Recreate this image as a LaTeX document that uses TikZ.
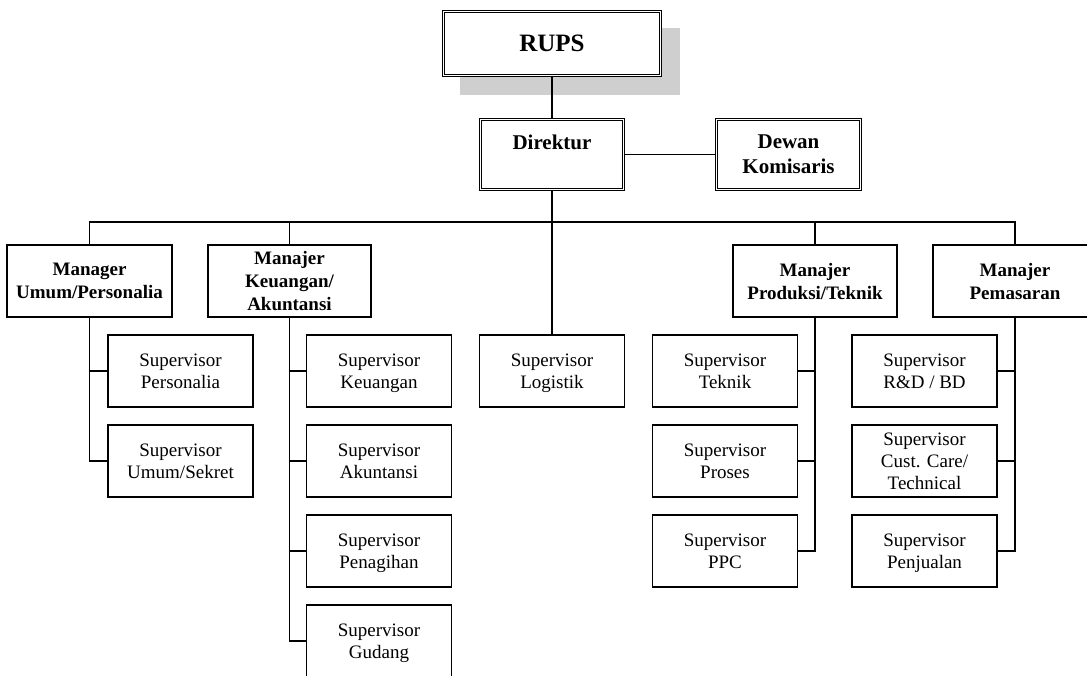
\documentclass[tikz,border=0pt]{standalone}
\usepackage{fontspec}
\setmainfont{Liberation Serif}
\begin{document}
\begin{tikzpicture}[x=1pt,y=-1pt,
  line width=1.2pt,
  boxtext/.style={align=center, inner sep=0pt, text depth=0pt},
  dbox/.style={boxtext, draw, double, double distance=1.6pt, line width=0.9pt, fill=white,
    font=\bfseries\fontsize{21}{25}\selectfont},
  mgr/.style={boxtext, draw, fill=white,
    minimum width=164pt, minimum height=72pt, font=\bfseries\fontsize{19}{23}\selectfont},
  sup/.style={boxtext, draw, fill=white,
    minimum width=145pt, minimum height=72pt, font=\fontsize{19}{22}\selectfont},
  link/.style={draw, line width=1.2pt}]
\clip (0,0) rectangle (1087,675);

% top level with its drop shadow
\fill[gray!38] (460,28) rectangle (680,95);
\node[dbox, minimum width=217pt, minimum height=64pt, font=\bfseries\fontsize{25}{29}\selectfont]
  (rups) at (552,43.5) {RUPS};
\node[dbox, minimum width=143pt, minimum height=70pt] (dir) at (552,154.5) {Direktur\\~};
\node[dbox, minimum width=144pt, minimum height=70pt] (dewan) at (788.5,154.5) {Dewan\\Komisaris};

% managers
\node[mgr, minimum width=165pt] (mU) at (89.5,281) {Manager\\Umum/Personalia};
\node[mgr, minimum width=163pt] (mK) at (289.5,281) {Manajer\\Keuangan/\\Akuntansi};
\node[mgr] (mP) at (815,281) {Manajer\\Produksi/Teknik};
\node[mgr] (mM) at (1015,281) {Manajer\\Pemasaran};

% supervisors
\node[sup] (sPers) at (180.5,371) {Supervisor\\Personalia};
\node[sup] (sUmum) at (180.5,461) {Supervisor\\Umum/Sekret};
\node[sup] (sKeu) at (379,371) {Supervisor\\Keuangan};
\node[sup] (sAku) at (379,461) {Supervisor\\Akuntansi};
\node[sup] (sPen) at (379,551) {Supervisor\\Penagihan};
\node[sup] (sGud) at (379,641) {Supervisor\\Gudang};
\node[sup] (sLog) at (552,371) {Supervisor\\Logistik};
\node[sup] (sTek) at (725,371) {Supervisor\\Teknik};
\node[sup] (sPro) at (725,461) {Supervisor\\Proses};
\node[sup] (sPPC) at (725,551) {Supervisor\\PPC};
\node[sup] (sRD) at (924.5,371) {Supervisor\\R\&D / BD};
\node[sup] (sCC) at (924.5,461) {Supervisor\\Cust. Care/\\Technical};
\node[sup] (sJual) at (924.5,551) {Supervisor\\Penjualan};

% bus below the director
\coordinate (bus) at (552,222);

% connectors
\path[link] (rups.south) -- (dir.north);
\path[link] (dir.east) -- (dewan.west);
\path[link] (dir.south) -- (sLog.north);
\path[link] (mU.north) |- (bus) -| (mM.north);
\path[link] (mK.north) -- (mK.north |- bus);
\path[link] (mP.north) -- (mP.north |- bus);

\path[link] (mU.south) |- (sPers.west);
\path[link] (mU.south) |- (sUmum.west);

\path[link] (mK.south) |- (sKeu.west);
\path[link] (mK.south) |- (sAku.west);
\path[link] (mK.south) |- (sPen.west);
\path[link] (mK.south) |- (sGud.west);

\path[link] (mP.south) |- (sTek.east);
\path[link] (mP.south) |- (sPro.east);
\path[link] (mP.south) |- (sPPC.east);

\path[link] (mM.south) |- (sRD.east);
\path[link] (mM.south) |- (sCC.east);
\path[link] (mM.south) |- (sJual.east);
\end{tikzpicture}
\end{document}
